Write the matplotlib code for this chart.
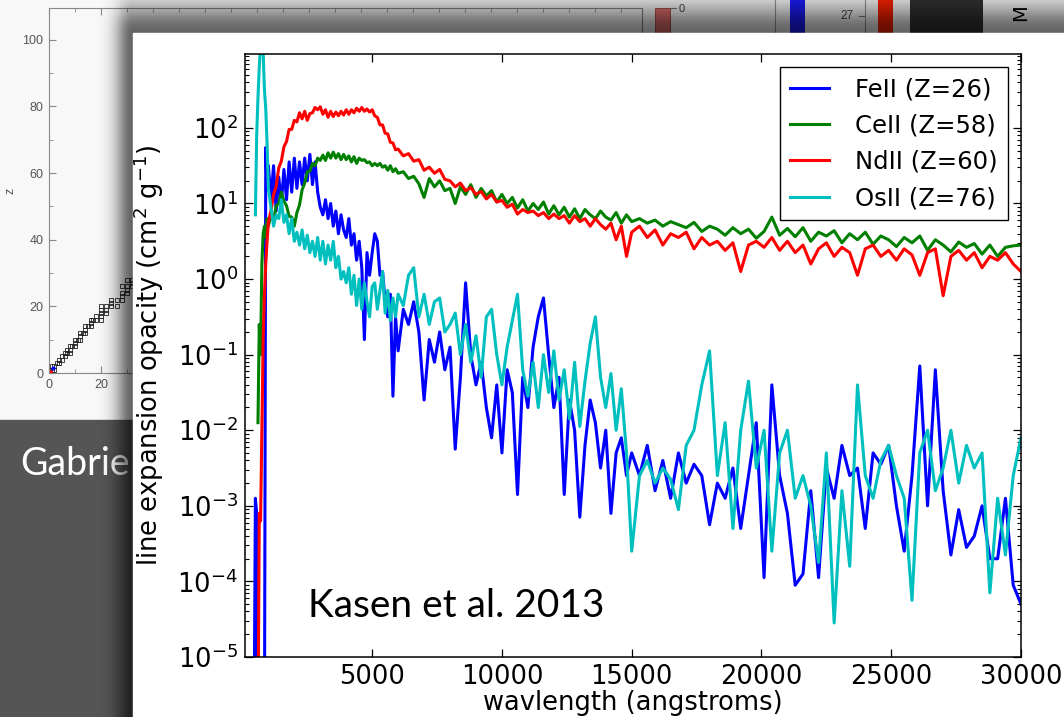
import numpy as np
import matplotlib
matplotlib.use("Agg")
import matplotlib.pyplot as plt
from matplotlib.patches import Rectangle

nan = np.nan

# ---------------- main chart data ----------------
wavelength = (
    [450, 500, 550, 600, 650, 700, 750, 800, 850, 900, 950, 1000]
    + [1100, 1200, 1300, 1400, 1500, 1600, 1700, 1800, 1900, 2000,
       2100, 2200, 2300, 2400, 2500, 2600, 2700, 2800, 2900, 3000,
       3100, 3200, 3300, 3400, 3500, 3600, 3700, 3800, 3900, 4000,
       4100, 4200, 4300, 4400, 4500, 4600, 4700, 4800, 4900, 5000,
       5100, 5200, 5300, 5400, 5500, 5600, 5700, 5800, 5900, 6000]
    + [6200, 6400, 6600, 6800, 7000, 7200, 7400, 7600, 7800, 8000,
       8200, 8400, 8600, 8800, 9000, 9200, 9400, 9600, 9800, 10000,
       10200, 10400, 10600, 10800, 11000, 11200, 11400, 11600, 11800, 12000,
       12200, 12400, 12600, 12800, 13000, 13200, 13400, 13600, 13800, 14000,
       14200, 14400, 14600, 14800, 15000]
    + [15300, 15600, 15900, 16200, 16500, 16800, 17100, 17400, 17700, 18000,
       18300, 18600, 18900, 19200, 19500, 19800, 20100, 20400, 20700, 21000,
       21300, 21600, 21900, 22200, 22500, 22800, 23100, 23400, 23700, 24000,
       24300, 24600, 24900, 25200, 25500, 25800, 26100, 26400, 26700, 27000,
       27300, 27600, 27900, 28200, 28500, 28800, 29100, 29400, 29700, 30000]
)

# log10 of line expansion opacity (cm^2 g^-1)
feii_log10 = (
    [-6, -2.9, -3.1, -6, -6, -6, -6, -6, -6, 1.74, 1.2, 1.5]
    + [1.05, 1.5, 0.9, 1.35, 1.0, 1.45, 1.05, 1.55, 1.15, 1.6,
       1.2, 1.55, 1.25, 1.6, 1.3, 1.65, 1.25, 1.55, 1.15, 0.95,
       0.85, 1.05, 0.8, 1.0, 0.7, 0.9, 0.6, 0.85, 0.65, 0.55,
       0.8, 0.45, 0.6, 0.25, 0.5, 0.15, -0.8, 0.35, 0.05, 0.35,
       0.6, 0.5, 0.05, 0.1, -0.3, -0.5, -0.2, -1.55, -0.5, -0.95]
    + [-0.4, -0.6, -0.3, -0.7, -1.6, -0.8, -1.1, -0.7, -1.2, -0.9,
       -2.25, -1.3, -0.05, -1.0, -1.4, -1.1, -1.7, -2.1, -1.4, -2.3,
       -1.2, -1.5, -2.85, -1.3, -1.7, -0.9, -0.5, -0.25, -1.0, -1.7,
       -1.3, -2.85, -1.6, -2.0, -3.15, -2.2, -1.6, -1.9, -2.5, -2.0,
       -3.1, -2.3, -2.1, -2.6, -2.3]
    + [-2.6, -2.2, -2.8, -2.4, -2.9, -2.3, -2.7, -2.45, -2.6, -3.25,
       -2.7, -2.9, -2.5, -3.3, -2.6, -1.9, -3.95, -1.4, -2.6, -3.1,
       -4.05, -3.9, -2.8, -3.95, -2.5, -2.9, -2.2, -2.6, -2.5, -3.3,
       -2.3, -2.45, -2.2, -3.0, -3.6, -2.6, -1.15, -3.0, -1.2, -2.8,
       -3.65, -3.05, -3.55, -3.4, -3.0, -3.7, -3.7, -2.9, -4.05, -4.3]
)

ceii_log10 = (
    [nan, nan, nan, -1.9, -0.6, -1.0, 0.2, 0.6, 0.7, 0.55, 0.8, 0.7]
    + [0.85, 0.78, 0.97, 1.0, 1.15, 1.03, 0.97, 0.83, 0.82, 0.7,
       0.88, 0.98, 1.18, 1.27, 1.42, 1.43, 1.53, 1.5, 1.6, 1.57,
       1.64, 1.57, 1.67, 1.6, 1.68, 1.6, 1.66, 1.58, 1.65, 1.58,
       1.63, 1.55, 1.62, 1.53, 1.6, 1.57, 1.58, 1.54, 1.55, 1.5,
       1.53, 1.5, 1.53, 1.48, 1.5, 1.44, 1.5, 1.42, 1.46, 1.4]
    + [1.42, 1.33, 1.36, 1.26, 1.08, 1.33, 1.22, 1.3, 1.17, 1.2,
       1.0, 1.22, 1.12, 1.25, 1.08, 1.2, 1.1, 1.17, 1.02, 1.12,
       1.0, 1.08, 0.94, 1.05, 0.9, 1.0, 0.92, 1.02, 0.86, 0.97,
       0.85, 0.95, 0.82, 0.93, 0.8, 0.92, 0.85, 0.8, 0.9, 0.82,
       0.78, 0.88, 0.74, 0.85, 0.76]
    + [0.8, 0.74, 0.78, 0.7, 0.76, 0.72, 0.68, 0.75, 0.63, 0.7,
       0.66, 0.58, 0.68, 0.6, 0.66, 0.54, 0.63, 0.82, 0.58, 0.67,
       0.56, 0.68, 0.5, 0.62, 0.57, 0.64, 0.48, 0.6, 0.52, 0.62,
       0.46, 0.57, 0.52, 0.43, 0.55, 0.48, 0.57, 0.38, 0.52, 0.45,
       0.36, 0.49, 0.42, 0.47, 0.33, 0.45, 0.3, 0.42, 0.44, 0.45]
)

ndii_log10 = (
    [nan, nan, nan, -6, -3.1, -3.2, -2.0, -0.8, -0.2, 0.2, 0.5, 0.75]
    + [0.9, 1.12, 1.22, 1.47, 1.56, 1.75, 1.82, 1.98, 1.98, 2.1,
       2.08, 2.2, 2.12, 2.22, 2.1, 2.19, 2.2, 2.27, 2.24, 2.28,
       2.18, 2.24, 2.14, 2.22, 2.15, 2.21, 2.16, 2.22, 2.17, 2.24,
       2.18, 2.24, 2.2, 2.26, 2.22, 2.27, 2.22, 2.25, 2.21, 2.24,
       2.16, 2.14, 2.04, 2.04, 1.93, 1.92, 1.81, 1.8, 1.71, 1.72]
    + [1.63, 1.66, 1.56, 1.58, 1.44, 1.48, 1.4, 1.45, 1.32, 1.3,
       1.22, 1.27, 1.17, 1.21, 1.12, 1.16, 1.06, 1.12, 1.02, 1.04,
       0.95, 0.99, 0.86, 0.92, 0.88, 0.9, 0.84, 0.88, 0.8, 0.86,
       0.8, 0.84, 0.74, 0.84, 0.76, 0.8, 0.7, 0.8, 0.72, 0.66,
       0.74, 0.52, 0.7, 0.3, 0.62]
    + [0.7, 0.55, 0.65, 0.45, 0.6, 0.55, 0.62, 0.4, 0.55, 0.45,
       0.5, 0.38, 0.48, 0.1, 0.45, 0.5, 0.42, 0.55, 0.38, 0.5,
       0.35, 0.45, 0.2, 0.4, 0.48, 0.3, 0.42, 0.35, 0.05, 0.4,
       0.45, 0.3, 0.38, 0.25, 0.4, 0.32, 0.05, 0.35, 0.4, -0.22,
       0.3, 0.38, 0.25, 0.35, 0.15, 0.3, 0.25, 0.35, 0.2, 0.1]
)

osii_log10 = (
    [nan, 0.85, 1.9, 2.4, 2.8, 3.1, 3.1, 3.0, 2.5, 2.25, 1.8, 1.2]
    + [0.95, 0.7, 0.85, 0.8, 1.05, 0.75, 0.85, 0.6, 0.8, 0.5,
       0.62, 0.45, 0.65, 0.4, 0.58, 0.35, 0.5, 0.3, 0.55, 0.25,
       0.5, 0.2, 0.45, 0.25, 0.5, 0.15, 0.3, 0.0, 0.1, -0.05,
       0.15, -0.2, 0.05, -0.35, 0.0, -0.4, -0.05, -0.3, -0.5, -0.1,
       -0.05, -0.4, -0.15, 0.1, -0.45, -0.15, -0.55, -0.25, -0.5, -0.2]
    + [-0.35, 0.05, 0.15, -0.5, -0.2, -0.6, -0.3, -0.25, -0.7, -0.6,
       -0.45, -1.0, -0.6, -1.1, -0.75, -1.3, -0.5, -0.4, -1.0, -1.4,
       -0.9, -0.55, -0.2, -1.2, -1.55, -1.1, -1.7, -1.0, -1.5, -0.95,
       -1.6, -1.2, -1.85, -1.1, -1.95, -1.35, -0.85, -0.5, -1.3, -1.7,
       -1.25, -2.0, -1.45, -2.3, -3.6]
    + [-2.6, -2.4, -2.7, -2.5, -2.65, -3.05, -2.2, -2.0, -1.4, -0.95,
       -2.6, -1.9, -3.3, -2.0, -1.35, -2.5, -2.0, -3.6, -2.3, -2.0,
       -2.9, -2.6, -3.0, -3.75, -2.3, -4.55, -2.8, -3.8, -1.4, -2.6,
       -2.9, -2.4, -2.2, -2.6, -2.9, -4.25, -2.3, -2.0, -2.8, -2.5,
       -2.0, -2.7, -2.2, -2.5, -2.3, -4.15, -2.9, -3.65, -2.6, -2.1]
)

series_labels = ["FeII (Z=26)", "CeII (Z=58)", "NdII (Z=60)", "OsII (Z=76)"]
series_colors = ["#0000ff", "#008000", "#ff0000", "#00bfbf"]
x_ticks = [5000, 10000, 15000, 20000, 25000, 30000]

# ---------------- background slide chart data ----------------
bg_n = [0, 1, 2, 1, 2, 3, 4, 4, 5, 5, 6, 6, 7, 8, 7, 8, 8, 9, 10, 10,
        10, 11, 12, 12, 12, 13, 14, 14, 14, 15, 16, 16, 16, 17, 18, 20,
        18, 20, 20, 22, 20, 22, 20, 22, 24, 26, 24, 24, 26, 28, 28, 28, 30,
        30, 28, 30, 32, 32, 30, 32, 34]
bg_z = [1, 1, 1, 2, 2, 3, 3, 4, 4, 5, 5, 6, 6, 6, 7, 7, 8, 8, 8, 9,
        10, 10, 10, 11, 12, 12, 12, 13, 14, 14, 14, 15, 16, 16, 16, 16,
        17, 17, 18, 18, 19, 19, 20, 20, 20, 20, 21, 22, 22, 22, 23, 24, 24,
        25, 26, 26, 26, 27, 28, 28, 28]
bg_xticks = [0, 20]
bg_yticks = [0, 20, 40, 60, 80, 100]

W, H = 1064, 717
fig = plt.figure(figsize=(W / 100, H / 100), dpi=100)


def px_axes(x0, y0, x1, y1, **kw):
    return fig.add_axes([x0 / W, 1 - y1 / H, (x1 - x0) / W, (y1 - y0) / H], **kw)


# ---- background slide ----
ax_bg = fig.add_axes([0, 0, 1, 1], zorder=0)
ax_bg.set_xlim(0, W)
ax_bg.set_ylim(H, 0)
ax_bg.axis("off")
ax_bg.add_patch(Rectangle((0, 0), W, H, color="#f8f8f8"))
ax_bg.add_patch(Rectangle((0, 420), 200, H - 420, color="#555555"))
ax_bg.add_patch(Rectangle((655, 8), 15, 40, fc="#e87070", ec="#a04040", lw=0.6))
ax_bg.plot([670, 676], [8, 8], color="#777", lw=0.8)
ax_bg.text(679, 9, "0", fontsize=8, color="#444", va="center", family="Liberation Sans")
ax_bg.plot([775, 775], [0, 40], color="#999", lw=0.8)
ax_bg.add_patch(Rectangle((790, 0), 15, 40, fc="#1c1cff", ec="none"))
ax_bg.text(847, 16, "27", fontsize=8.5, color="#444", ha="center", va="center", family="Liberation Sans")
ax_bg.plot([859, 865], [16, 16], color="#777", lw=0.8)
ax_bg.plot([865, 865], [0, 40], color="#999", lw=0.8)
ax_bg.add_patch(Rectangle((878, 0), 15, 40, fc="#ff2200", ec="none"))
ax_bg.add_patch(Rectangle((910, 0), 73, 40, fc="#333333", ec="none"))
ax_bg.text(1021, 4, "M", fontsize=14, rotation=90, ha="center", va="top", color="black")
ax_bg.text(20, 475, "Gabrie", fontsize=27, color="white", family="Lato", va="baseline")

# ---- background left chart ----
ax_l = px_axes(49, 8, 642, 373, zorder=1)
ax_l.patch.set_alpha(0)
ax_l.plot(bg_n, bg_z, linestyle="none", marker="s", markersize=3.2,
          mfc="none", mec="#222", mew=0.6)
ax_l.plot([0.5], [0.3], "o", color="red", markersize=2.5)
ax_l.plot([1.5], [1.5], "o", color="blue", markersize=2)
ax_l.set_xlim(0, 228)
ax_l.set_ylim(0, 109.5)
ax_l.set_xticks(bg_xticks)
ax_l.set_xticks(range(10, 221, 10), minor=True)
ax_l.set_yticks(bg_yticks)
ax_l.set_yticks(range(10, 101, 20), minor=True)
for s in ax_l.spines.values():
    s.set_color("#888")
    s.set_linewidth(0.8)
ax_l.tick_params(which="both", direction="in", top=True, right=True,
                 color="#888", labelcolor="#555", labelsize=9, pad=4)
ax_l.tick_params(which="major", length=5)
ax_l.tick_params(which="minor", length=3)
for lab in ax_l.get_xticklabels() + ax_l.get_yticklabels():
    lab.set_family("Liberation Sans")
ax_l.set_ylabel("z", fontsize=9, color="#555", family="Liberation Sans", labelpad=4)

# ---- shadow + white panel ----
ax_sh = fig.add_axes([0, 0, 1, 1], zorder=2)
ax_sh.set_xlim(0, W)
ax_sh.set_ylim(H, 0)
ax_sh.axis("off")
yy, xx = np.mgrid[0:H, 0:W] + 0.5
dx = np.clip(133 - xx, 0, None)
dy = np.clip(33 - yy, 0, None)
alpha = 0.6 * np.exp(-((dx / 17.0) ** 2 + (dy / 30.0) ** 2))
alpha[(xx >= 133) & (yy >= 33)] = 0
shadow = np.zeros((H, W, 4))
shadow[..., 3] = alpha
ax_sh.imshow(shadow, extent=(0, W, H, 0), interpolation="bilinear", aspect="auto")
ax_sh.add_patch(Rectangle((133, 33), W - 133, H - 33, color="white"))
ax_sh.set_xlim(0, W)
ax_sh.set_ylim(H, 0)

# ---- main chart ----
ax = px_axes(245, 54, 1021, 657, zorder=3)
wl = np.array(wavelength, dtype=float)
for vals, lab, col in zip([feii_log10, ceii_log10, ndii_log10, osii_log10],
                          series_labels, series_colors):
    ax.plot(wl, 10.0 ** np.array(vals, dtype=float), color=col, lw=2.2, label=lab)
ax.set_yscale("log")
ax.set_xlim(100, 30000)
ax.set_ylim(1e-5, 950)
ax.set_xticks(x_ticks)
ax.set_xticklabels([str(t) for t in x_ticks])
for s in ax.spines.values():
    s.set_linewidth(1.1)
ax.tick_params(which="both", direction="in", top=True, right=True, labelsize=18.5)
ax.tick_params(which="major", length=6, width=0.9, pad=5)
ax.tick_params(which="minor", length=3, width=0.8)
ax.set_xlabel("wavlength (angstroms)", fontsize=18.5, labelpad=0)
ax.set_ylabel("line expansion opacity (cm$^2$ g$^{-1}$)", fontsize=18.5, labelpad=8)
leg = ax.legend(loc="upper right", fontsize=17.5, fancybox=False, framealpha=1,
                edgecolor="black", handlelength=1.6, handletextpad=1.05,
                labelspacing=0.5, borderpad=0.42, borderaxespad=0.55)
leg.get_frame().set_linewidth(1.0)

fig.text(308 / W, 1 - 617 / H, "Kasen et al. 2013", fontsize=28, family="Lato",
         va="baseline", ha="left", zorder=6)

fig.savefig("out.png", dpi=100)
